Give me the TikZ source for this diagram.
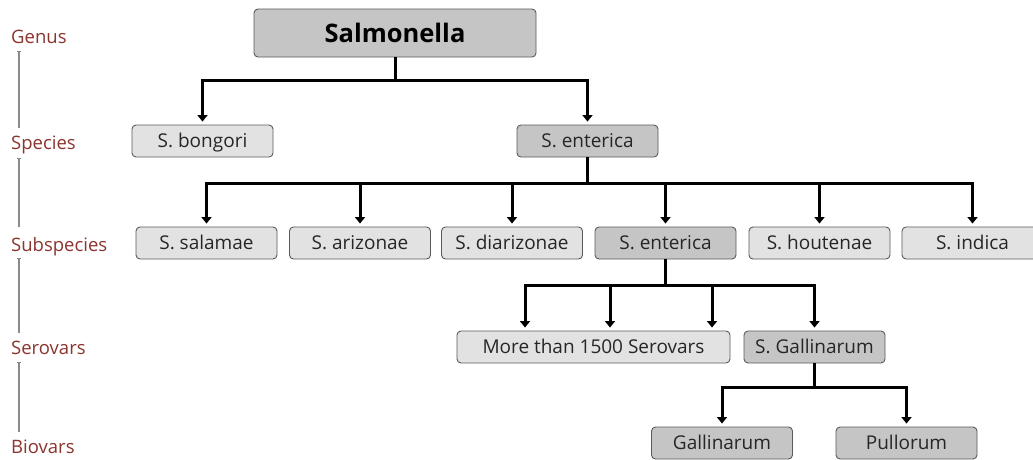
\documentclass[tikz,border=0pt]{standalone}
\usepackage{fontspec}
\setmainfont{Open Sans}
\usetikzlibrary{arrows.meta,calc}
\definecolor{lightbox}{HTML}{E2E2E2}
\definecolor{darkbox}{HTML}{C5C5C5}
\definecolor{boxline}{HTML}{5A5A5A}
\definecolor{rankred}{HTML}{8C342E}
\definecolor{rulegray}{HTML}{8A8A8A}
\definecolor{txt}{HTML}{262626}
\tikzset{
  taxbox/.style={draw=boxline, line width=0.9pt, rounded corners=4pt,
    minimum width=141pt, minimum height=32pt, inner xsep=0pt, inner ysep=0pt,
    text height=13.5pt, text depth=0pt, font=\fontsize{19}{19}\selectfont, text=txt},
  lightb/.style={taxbox, fill=lightbox},
  darkb/.style={taxbox, fill=darkbox},
  rank/.style={anchor=base west, inner sep=0pt, text=rankred, font=\fontsize{18.5}{18.5}\selectfont},
  arr/.style={line width=3pt, black, -{Triangle[width=10pt,length=6.5pt]}, shorten >=3pt},
  rankrule/.style={line width=1.4pt, rulegray, {Bar[width=4pt,line width=1pt]}-}
}
\begin{document}
\begin{tikzpicture}[x=1pt,y=-1pt]
\useasboundingbox (0,0) rectangle (1033,459);
\fill[white] (0,0) rectangle (1033,459);

% rank labels
\node[rank] (lgenus) at (11,43) {Genus};
\node[rank] (lspec) at (11,149) {Species};
\node[rank] (lsub) at (11,251) {Subspecies};
\node[rank] (lser) at (11,354) {Serovars};
\node[rank] (lbio) at (11,453) {Biovars};
\coordinate (r1a) at (19,51);  \coordinate (r1b) at (19,128);
\coordinate (r2a) at (19,158); \coordinate (r2b) at (19,227);
\coordinate (r3a) at (19,258); \coordinate (r3b) at (19,333);
\coordinate (r4a) at (19,362); \coordinate (r4b) at (19,432);
\draw[rankrule] (r1a) -- (r1b);
\draw[rankrule] (r2a) -- (r2b);
\draw[rankrule] (r3a) -- (r3b);
\draw[rankrule] (r4a) -- (r4b);

% genus
\node[darkb, minimum width=282pt, minimum height=48pt, text height=18.5pt,
      font=\fontsize{25.5}{25.5}\selectfont\bfseries, text=black] (salm) at (395,33) {Salmonella};

% species
\node[lightb] (bong) at (202.5,141) {S. bongori};
\node[darkb] (sent) at (587.5,141) {S. enterica};

% subspecies
\node[lightb] (sala) at (206.5,243) {S. salamae};
\node[lightb] (ariz) at (360,243) {S. arizonae};
\node[lightb] (diar) at (512,243) {S. diarizonae};
\node[darkb] (sent2) at (665.5,243) {S. enterica};
\node[lightb] (hout) at (819.5,243) {S. houtenae};
\node[lightb] (indi) at (972.5,243) {S. indica};

% serovars
\node[lightb, minimum width=273pt] (more) at (593.5,347) {More than 1500 Serovars};
\node[darkb] (sgal) at (814.5,347) {S. Gallinarum};

% biovars
\node[darkb] (gall) at (722,443) {Gallinarum};
\node[darkb] (pull) at (906.5,443) {Pullorum};

% connectors
\draw[arr] (salm.south) -- ++(0,23) -| (bong.north);
\draw[arr] (salm.south) -- ++(0,23) -| (sent.north);

\foreach \t in {sala,ariz,diar,sent2,hout,indi}
  \draw[arr] (sent.south) -- ++(0,26) -| (\t.north);

\draw[arr] (sent2.south) -- ++(0,26) -| ([xshift=-68.5pt]more.north);
\draw[arr] (sent2.south) -- ++(0,26) -| ([xshift=16.5pt]more.north);
\draw[arr] (sent2.south) -- ++(0,26) -| ([xshift=118.5pt]more.north);
\draw[arr] (sent2.south) -- ++(0,26) -| (sgal.north);

\draw[arr] (sgal.south) -- ++(0,24) -| (gall.north);
\draw[arr] (sgal.south) -- ++(0,24) -| (pull.north);
\end{tikzpicture}
\end{document}
